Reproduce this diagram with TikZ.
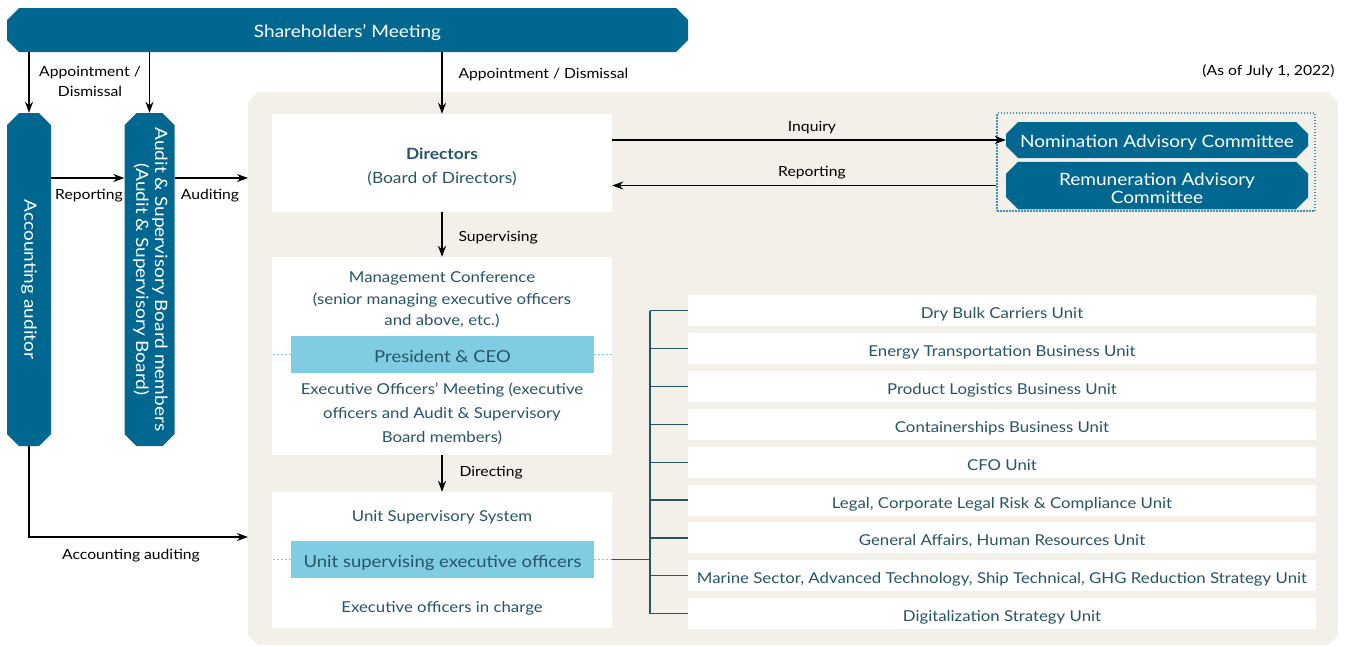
\documentclass[tikz,border=0pt]{standalone}
\usepackage{fontspec}
\setmainfont{Lato}[FakeStretch=1.12]
\usetikzlibrary{arrows.meta,positioning,shapes.misc}
\definecolor{mteal}{HTML}{006890}
\definecolor{mtext}{HTML}{285566}
\definecolor{mblue}{HTML}{80CDE3}
\definecolor{mdot}{HTML}{3E92B2}
\definecolor{mbeige}{HTML}{F3EFE9}
\begin{document}
\begin{tikzpicture}[x=1pt, y=-1pt,
    darkbar/.style={chamfered rectangle, chamfered rectangle xsep=6pt, chamfered rectangle ysep=6pt, fill=mteal, text=white, inner sep=0pt, align=center},
    whitebox/.style={fill=white, inner sep=0pt, minimum width=340pt},
    bluebar/.style={fill=mblue, text=mtext, inner sep=0pt, minimum width=303pt, minimum height=37pt, text height=16pt, text depth=0pt, font=\fontsize{16.5}{20}\selectfont},
    unitbox/.style={fill=white, text=mtext, inner sep=0pt, minimum width=628pt, minimum height=31pt, text height=16pt, text depth=0pt, font=\fontsize{15}{18}\selectfont},
    boxtext/.style={text=mtext, align=center, font=\fontsize{15}{21.5}\selectfont},
    label/.style={font=\fontsize{14}{20}\selectfont, align=center},
    arrow/.style={-{Stealth[length=11pt, width=8pt]}, line width=1.2pt},
    dotline/.style={mblue, dash pattern=on 2pt off 2pt, line width=1pt},
    branch/.style={mtext, line width=1.2pt}
]
\useasboundingbox (0,0) rectangle (1351,646);
% background panel
\fill[mbeige] (258,92) -- (1328,92) -- (1338,102) -- (1338,635) -- (1328,645) -- (258,645) -- (248,635) -- (248,102) -- cycle;
\coordinate (panelwest) at (248,0);
\node[label, anchor=east] (asof) at (1338,71.5) {(As of July 1, 2022)};

% top and left
\node[darkbar, minimum width=681pt, minimum height=44pt, text height=15.5pt, text depth=0pt, font=\fontsize{17}{20}\selectfont] (shareholders) at (347.5,30) {Shareholders’ Meeting};
\node[darkbar, minimum width=44pt, minimum height=333pt, font=\fontsize{17}{20}\selectfont] (auditor) at (29,279.5) {\rotatebox{-90}{Accounting auditor}};
\node[darkbar, minimum width=45pt, minimum height=333pt, font=\fontsize{17}{19}\selectfont] (board) at (149.5,279.5) {\rotatebox{-90}{\begin{tabular}{@{}c@{}}Audit \& Supervisory Board members\\(Audit \& Supervisory Board)\end{tabular}}};

% directors and committees
\node[whitebox, minimum height=98pt] (directors) at (442,163) {};
\node[boxtext, font=\fontsize{15.5}{24}\selectfont] (dirtext) at (442,167) {\textbf{Directors}\\(Board of Directors)};
\node[draw=mdot, dash pattern=on 1.5pt off 1.5pt, line width=1.3pt, minimum width=318pt, minimum height=98pt] (cmtframe) at (1156,162) {};
\node[darkbar, minimum width=302pt, minimum height=36pt, text height=15.5pt, text depth=0pt, font=\fontsize{17}{20}\selectfont] (nomination) at (1157,140) {Nomination Advisory Committee};
\node[darkbar, minimum width=302pt, minimum height=37pt, text height=35.5pt, text depth=0pt, font=\fontsize{17}{18}\selectfont] (remuneration) at (1157,185.5) {Remuneration Advisory\\Committee};

% management conference
\node[whitebox, minimum height=198pt] (mgmt) at (442,356) {};
\node[boxtext] (mgmttop) at (442,300) {Management Conference\\(senior managing executive officers\\and above, etc.)};
\node[bluebar] (ceo) at (442.5,354.5) {President \& CEO};
\node[boxtext, font=\fontsize{15}{24}\selectfont] (mgmtbot) at (442,414) {Executive Officers’ Meeting (executive\\officers and Audit \& Supervisory\\Board members)};

% unit supervisory system
\node[whitebox, minimum height=136pt] (usys) at (442,560) {};
\node[boxtext] (usystop) at (442,517) {Unit Supervisory System};
\node[bluebar] (exec) at (442.5,559.5) {Unit supervising executive officers};
\node[boxtext] (usysbot) at (442,608.5) {Executive officers in charge};

% units
\node[unitbox] (u1) at (1002,310.5) {Dry Bulk Carriers Unit};
\node[unitbox] (u2) at (1002,348.4) {Energy Transportation Business Unit};
\node[unitbox] (u3) at (1002,386.3) {Product Logistics Business Unit};
\node[unitbox] (u4) at (1002,424.2) {Containerships Business Unit};
\node[unitbox] (u5) at (1002,462.1) {CFO Unit};
\node[unitbox] (u6) at (1002,500) {Legal, Corporate Legal Risk \& Compliance Unit};
\node[unitbox] (u7) at (1002,537.9) {General Affairs, Human Resources Unit};
\node[unitbox] (u8) at (1002,575.8) {Marine Sector, Advanced Technology, Ship Technical, GHG Reduction Strategy Unit};
\node[unitbox] (u9) at (1002,613.7) {Digitalization Strategy Unit};

\coordinate (audrow) at (0,178);
\coordinate (accrow) at (0,537);
\coordinate (trunk) at (650,0);

% connectors
\draw[arrow] (shareholders.south -| auditor) -- (auditor.north);
\draw[arrow] (shareholders.south -| board) -- (board.north);
\draw[arrow] (shareholders.south -| directors) -- (directors.north);
\draw[arrow] (auditor.east |- audrow) -- (board.west |- audrow);
\draw[arrow] (board.east |- audrow) -- (panelwest |- audrow);
\draw[arrow] (auditor.south) |- (panelwest |- accrow);
\draw[arrow] (directors.east |- nomination) -- (nomination.west);
\draw[arrow] (cmtframe.west |- remuneration) -- (directors.east |- remuneration);
\draw[arrow] (directors.south) -- (mgmt.north);
\draw[arrow] (mgmt.south) -- (usys.north);
\draw[dotline] (ceo.west) -- (ceo.west -| mgmt.west);
\draw[dotline] (ceo.east) -- (ceo.east -| mgmt.east);
\draw[dotline] (exec.west) -- (exec.west -| usys.west);
\draw[dotline] (exec.east) -- (exec.east -| usys.east);
\draw[branch] (exec.east -| usys.east) -- (exec.east -| trunk);
\draw[branch] (u1.west -| trunk) -- (u9.west -| trunk);
\draw[branch] (u1.west -| trunk) -- (u1.west);
\draw[branch] (u2.west -| trunk) -- (u2.west);
\draw[branch] (u3.west -| trunk) -- (u3.west);
\draw[branch] (u4.west -| trunk) -- (u4.west);
\draw[branch] (u5.west -| trunk) -- (u5.west);
\draw[branch] (u6.west -| trunk) -- (u6.west);
\draw[branch] (u7.west -| trunk) -- (u7.west);
\draw[branch] (u8.west -| trunk) -- (u8.west);
\draw[branch] (u9.west -| trunk) -- (u9.west);

% connector labels
\node[label] (appleft) at (90,81.5) {Appointment /\\Dismissal};
\node[label, anchor=west] (appright) at (455,75) {Appointment / Dismissal};
\node[label] (reportleft) at (89,195.5) {Reporting};
\node[label] (auditing) at (210,195.5) {Auditing};
\node[label] (accauditing) at (131,555.5) {Accounting auditing};
\node[label] (inquiry) at (812,128) {Inquiry};
\node[label] (reportright) at (812,173) {Reporting};
\node[label, anchor=west] (supervising) at (455,237.5) {Supervising};
\node[label, anchor=west] (directing) at (456,472.5) {Directing};
\end{tikzpicture}
\end{document}
